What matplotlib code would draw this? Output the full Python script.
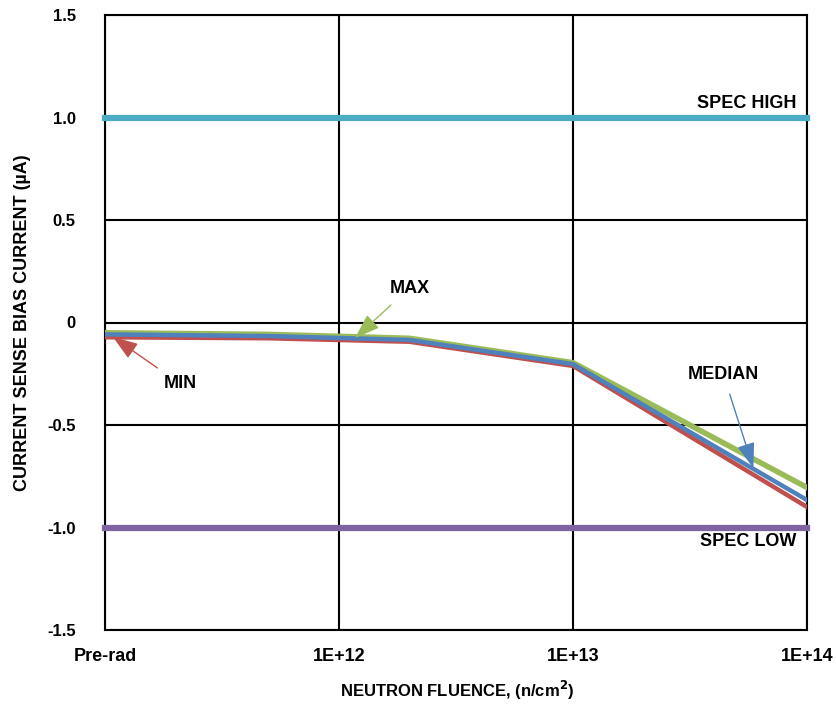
import matplotlib
matplotlib.use("Agg")
import matplotlib.pyplot as plt

plt.rcParams['font.family'] = ['Liberation Sans', 'DejaVu Sans']

# Data
fluence = [1e11, 5e11, 2e12, 1e13, 1e14]   # 1e11 position = Pre-rad
max_vals = [-0.05, -0.058, -0.077, -0.196, -0.805]
median_vals = [-0.058, -0.066, -0.085, -0.203, -0.866]
min_vals = [-0.072, -0.077, -0.094, -0.212, -0.900]
spec_high = 1.0
spec_low = -1.0
xtick_pos = [1e11, 1e12, 1e13, 1e14]
xtick_labels = ['Pre-rad', '1E+12', '1E+13', '1E+14']
ytick_pos = [-1.5, -1.0, -0.5, 0, 0.5, 1.0, 1.5]
ytick_labels = ['-1.5', '-1.0', '-0.5', '0', '0.5', '1.0', '1.5']

c_green = '#9BBB59'
c_red = '#C0504D'
c_blue = '#4F81BD'
c_cyan = '#4BACC6'
c_purple = '#8064A2'

FS = 13

fig = plt.figure(figsize=(8.36, 7.04), dpi=100)
ax = fig.add_axes([105/836, 1-630/704, (807-105)/836, (630-15)/704])
ax.set_xscale('log')
ax.set_xlim(1e11, 1e14)
ax.set_ylim(-1.5, 1.5)

ax.set_xticks(xtick_pos)
ax.set_xticklabels(xtick_labels)
ax.minorticks_off()
ax.set_yticks(ytick_pos)
ax.set_yticklabels(ytick_labels)
ax.tick_params(length=0)
ax.tick_params(axis='x', pad=13, labelsize=FS)
ax.tick_params(axis='y', pad=21, labelsize=12)
for lab in ax.get_xticklabels() + ax.get_yticklabels():
    lab.set_fontweight('bold')

ax.grid(True, color='black', linewidth=1.5)
ax.set_axisbelow(True)
for s in ax.spines.values():
    s.set_linewidth(1.5)
    s.set_color('black')

ax.plot([1e11, 1e14], [spec_high, spec_high], color=c_cyan, lw=4.5, clip_on=False, solid_capstyle='projecting', zorder=3)
ax.plot([1e11, 1e14], [spec_low, spec_low], color=c_purple, lw=4.5, clip_on=False, solid_capstyle='projecting', zorder=3)

ax.plot(fluence, min_vals, color=c_red, lw=3.2, zorder=4)
ax.plot(fluence, median_vals, color=c_blue, lw=3.2, zorder=4.5)
ax.plot(fluence, max_vals, color=c_green, lw=4.0, zorder=4.2)

ax.text(0.985, 1.025, 'SPEC HIGH', transform=ax.get_yaxis_transform(), ha='right', va='bottom',
        fontsize=FS, fontweight='bold')
ax.text(0.985, -1.025, 'SPEC LOW', transform=ax.get_yaxis_transform(), ha='right', va='top',
        fontsize=FS, fontweight='bold')

astyle = '-|>,head_length=1.2,head_width=0.42'
ax.annotate('MAX', xy=(1.17e12, -0.076), xytext=(2.0e12, 0.168),
            fontsize=FS, fontweight='bold', ha='center', va='center',
            arrowprops=dict(arrowstyle=astyle, color=c_green, lw=1.0,
                            shrinkA=6, shrinkB=0), zorder=6)
ax.annotate('MIN', xy=(1.08e11, -0.07), xytext=(2.1e11, -0.30),
            fontsize=FS, fontweight='bold', ha='center', va='center',
            arrowprops=dict(arrowstyle=astyle, color=c_red, lw=1.0,
                            shrinkA=6, shrinkB=0), zorder=6)
ax.annotate('MEDIAN', xy=(5.9e13, -0.71), xytext=(4.4e13, -0.256),
            fontsize=FS, fontweight='bold', ha='center', va='center',
            arrowprops=dict(arrowstyle=astyle, color=c_blue, lw=1.0,
                            shrinkA=6, shrinkB=0), zorder=6)

fig.text(457/836, 1-690/704, 'NEUTRON FLUENCE, (n/cm$^\\mathbf{2}$)', fontsize=12, fontweight='bold',
         ha='center', va='center')
ax.set_ylabel('CURRENT SENSE BIAS CURRENT (\u00b5A)', fontsize=FS, fontweight='bold', labelpad=12)

fig.savefig('out.png', dpi=100)
